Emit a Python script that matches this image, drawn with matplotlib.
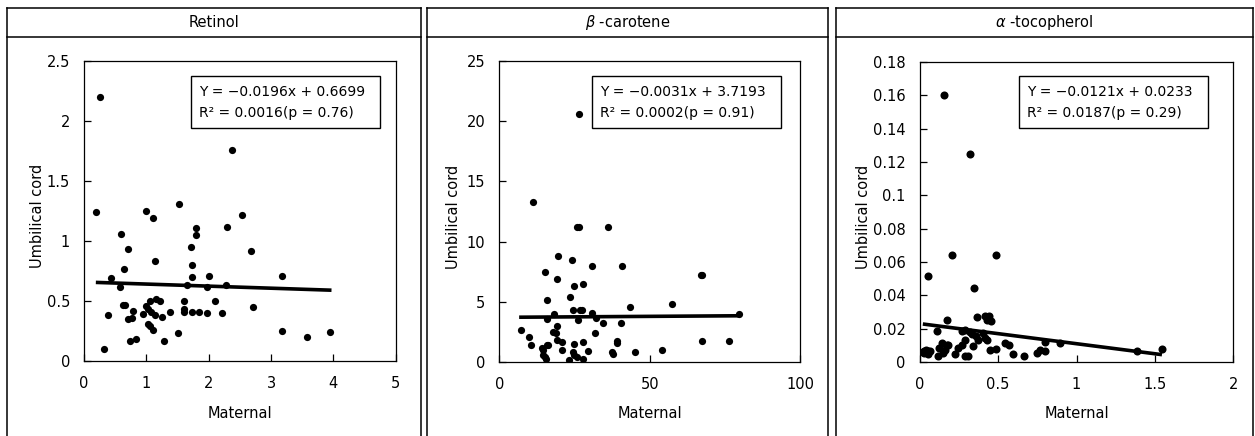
import matplotlib
matplotlib.use("Agg")
import matplotlib.pyplot as plt
from matplotlib.lines import Line2D
from matplotlib.patches import Rectangle

plt.rcParams['font.family'] = ['DejaVu Sans']

# ---------------- data ----------------
titles = ["Retinol", r"$\beta$ -carotene", r"$\alpha$ -tocopherol"]
eq_lines = ["Y = \u22120.0196x + 0.6699", "Y = \u22120.0031x + 3.7193", "Y = \u22120.0121x + 0.0233"]
r2_lines = ["R\u00b2 = 0.0016(p = 0.76)", "R\u00b2 = 0.0002(p = 0.91)", "R\u00b2 = 0.0187(p = 0.29)"]
xlabel = "Maternal"
ylabel = "Umbilical cord"

retinol_x = [0.25, 0.19, 0.32, 0.44, 0.39, 0.60, 0.58, 0.70, 0.64, 0.63, 0.66, 0.70, 0.77, 0.79,
             0.74, 0.83, 0.95, 1.00, 1.00, 1.03, 1.07, 1.06, 1.02, 1.06, 1.11, 1.11, 1.14, 1.16,
             1.22, 1.14, 1.25, 1.28, 1.38, 1.51, 1.52, 1.61, 1.61, 1.61, 1.65, 1.72, 1.73, 1.73,
             1.73, 1.79, 1.79, 1.85, 1.98, 2.01, 1.98, 2.10, 2.21, 2.27, 2.29, 2.38, 2.54, 2.68,
             2.71, 3.17, 3.17, 3.58, 3.95]
retinol_y = [2.20, 1.24, 0.10, 0.69, 0.38, 1.06, 0.62, 0.93, 0.77, 0.47, 0.47, 0.35, 0.36, 0.42,
             0.17, 0.18, 0.39, 1.25, 0.46, 0.43, 0.41, 0.50, 0.31, 0.29, 0.26, 1.19, 0.83, 0.52,
             0.50, 0.38, 0.37, 0.17, 0.41, 0.23, 1.31, 0.50, 0.43, 0.41, 0.63, 0.95, 0.80, 0.70,
             0.41, 1.11, 1.05, 0.41, 0.40, 0.71, 0.62, 0.50, 0.40, 0.63, 1.12, 1.76, 1.22, 0.92,
             0.45, 0.71, 0.25, 0.20, 0.24]

carotene_x = [26.6, 11.3, 25.9, 26.6, 36.0, 19.6, 24.1, 30.7, 40.9, 15.3, 19.1, 24.8, 27.7, 67.1,
              67.5, 15.7, 23.5, 24.4, 26.8, 27.6, 43.5, 57.3, 18.2, 30.7, 15.7, 26.3, 32.1, 34.6,
              40.5, 19.1, 7.1, 17.7, 18.8, 31.8, 10.0, 19.1, 20.7, 39.0, 39.0, 67.3, 76.5, 10.5,
              15.7, 16.3, 14.1, 14.4, 24.9, 27.9, 20.7, 29.6, 54.0, 37.4, 37.7, 45.1, 24.4, 14.6,
              15.2, 24.8, 25.7, 27.9, 23.2, 15.5, 79.7]
carotene_y = [20.6, 13.3, 11.2, 11.2, 11.25, 8.8, 8.45, 8.0, 8.0, 7.46, 6.9, 6.35, 6.5, 7.24,
              7.24, 5.17, 5.44, 4.34, 4.34, 4.34, 4.56, 4.8, 3.98, 4.06, 3.6, 3.5, 3.65, 3.23,
              3.23, 2.96, 2.68, 2.49, 2.4, 2.4, 2.04, 1.80, 1.66, 1.77, 1.57, 1.77, 1.71, 1.44,
              1.44, 1.44, 1.16, 0.97, 1.52, 1.66, 1.02, 0.88, 1.02, 0.80, 0.69, 0.80, 0.83, 0.61,
              0.41, 0.61, 0.41, 0.28, 0.19, 0.25, 4.0]

tocopherol_x = [0.02, 0.03, 0.04, 0.05, 0.066, 0.03, 0.05, 0.055, 0.108, 0.115, 0.125, 0.14, 0.151,
                0.161, 0.172, 0.183, 0.157, 0.172, 0.209, 0.225, 0.246, 0.268, 0.289, 0.268, 0.289,
                0.289, 0.31, 0.321, 0.321, 0.332, 0.342, 0.345, 0.359, 0.374, 0.364, 0.406, 0.417,
                0.427, 0.417, 0.427, 0.44, 0.455, 0.449, 0.487, 0.485, 0.544, 0.572, 0.593, 0.666,
                0.747, 0.768, 0.80, 0.80, 0.895, 1.385, 1.545]
tocopherol_y = [0.006, 0.0065, 0.0074, 0.0068, 0.0068, 0.0055, 0.005, 0.0514, 0.0184, 0.0034, 0.0084,
                0.0114, 0.0054, 0.0074, 0.0104, 0.0104, 0.160, 0.0254, 0.0644, 0.005, 0.0084, 0.0104,
                0.0134, 0.0184, 0.0194, 0.0034, 0.0034, 0.125, 0.018, 0.0168, 0.0094, 0.0444, 0.0154,
                0.0134, 0.027, 0.0174, 0.0144, 0.0134, 0.0278, 0.0254, 0.0274, 0.0244, 0.0074, 0.0644,
                0.0078, 0.0114, 0.0104, 0.005, 0.0034, 0.0054, 0.0074, 0.0118, 0.0064, 0.0114, 0.0068,
                0.0078]

# fitted lines (end points)
fit_x = [[0.19, 3.97], [6.6, 80.0], [0.02, 1.545]]
fit_y = [[0.655, 0.59], [3.72, 3.84], [0.0228, 0.0044]]

xticks = [[0, 1, 2, 3, 4, 5], [0, 50, 100], [0, 0.5, 1, 1.5, 2]]
xticklabels = [["0", "1", "2", "3", "4", "5"], ["0", "50", "100"], ["0", "0.5", "1", "1.5", "2"]]
yticks = [[0, 0.5, 1, 1.5, 2, 2.5], [0, 5, 10, 15, 20, 25],
          [0, 0.02, 0.04, 0.06, 0.08, 0.1, 0.12, 0.14, 0.16, 0.18]]
yticklabels = [["0", "0.5", "1", "1.5", "2", "2.5"], ["0", "5", "10", "15", "20", "25"],
               ["0", "0.02", "0.04", "0.06", "0.08", "0.1", "0.12", "0.14", "0.16", "0.18"]]

series_x = [retinol_x, carotene_x, tocopherol_x]
series_y = [retinol_y, carotene_y, tocopherol_y]

# ---------------- layout (pixels) ----------------
W, H = 1255, 436
fig = plt.figure(figsize=(W / 100, H / 100), dpi=100)

def fx(px):
    return px / W

def fy(py):
    return 1 - py / H

axes_px = [(84, 395.7, 61, 361), (499.3, 800, 61, 362), (919.7, 1233.3, 62, 362)]
panel_px = [(7, 421), (427, 828), (836, 1253)]
box_px = [(190.7, 380, 76, 128.3), (592.3, 780.7, 76, 127.7), (1019, 1207.7, 76, 128.3)]
ylab_x = [38, 453, 863]
msizes = [5.2, 5.2, 5.8]

for i in range(3):
    l, r, t, b = axes_px[i]
    ax = fig.add_axes([fx(l), fy(b), fx(r - l), (b - t) / H])
    ax.plot(series_x[i], series_y[i], 'o', color='black', ms=msizes[i], mec='black', mew=0)
    ax.plot(fit_x[i], fit_y[i], '-', color='black', lw=2.6, solid_capstyle='butt')
    ax.set_xlim(xticks[i][0], xticks[i][-1])
    ax.set_ylim(yticks[i][0], yticks[i][-1])
    ax.set_xticks(xticks[i])
    ax.set_xticklabels(xticklabels[i])
    ax.set_yticks(yticks[i])
    ax.set_yticklabels(yticklabels[i])
    ax.tick_params(direction='in', length=5, width=0.9, labelsize=10.5, colors='black')
    ax.tick_params(axis='x', pad=11)
    ax.tick_params(axis='y', pad=10)
    for s in ax.spines.values():
        s.set_linewidth(0.9)
    # x and y labels
    fig.text(fx((l + r) / 2), fy(413), xlabel, ha='center', va='center', fontsize=10.5)
    fig.text(fx(ylab_x[i]), fy((t + b) / 2 + 5), ylabel, ha='center', va='center',
             rotation=90, fontsize=10.5)
    # equation box
    bl, br, bt, bb = box_px[i]
    fig.patches.append(Rectangle((fx(bl), fy(bb)), fx(br - bl), (bb - bt) / H,
                                 transform=fig.transFigure, fill=True, facecolor='white',
                                 edgecolor='black', lw=1.0, zorder=5))
    fig.text(fx(bl + 8), fy(91.5), eq_lines[i], ha='left', va='center', fontsize=10, zorder=6)
    fig.text(fx(bl + 8), fy(113), r2_lines[i], ha='left', va='center', fontsize=10, zorder=6)
    # panel frame
    pl, pr = panel_px[i]
    lw = 1.1
    fig.add_artist(Line2D([fx(pl), fx(pr)], [fy(8), fy(8)], color='black', lw=lw))
    fig.add_artist(Line2D([fx(pl), fx(pr)], [fy(37), fy(37)], color='black', lw=lw))
    fig.add_artist(Line2D([fx(pl), fx(pl)], [fy(8), fy(436)], color='black', lw=lw))
    fig.add_artist(Line2D([fx(pr), fx(pr)], [fy(8), fy(436)], color='black', lw=lw))
    fig.text(fx((pl + pr) / 2), fy(22.5), titles[i], ha='center', va='center', fontsize=10.5)

fig.savefig("out.png", dpi=100)
